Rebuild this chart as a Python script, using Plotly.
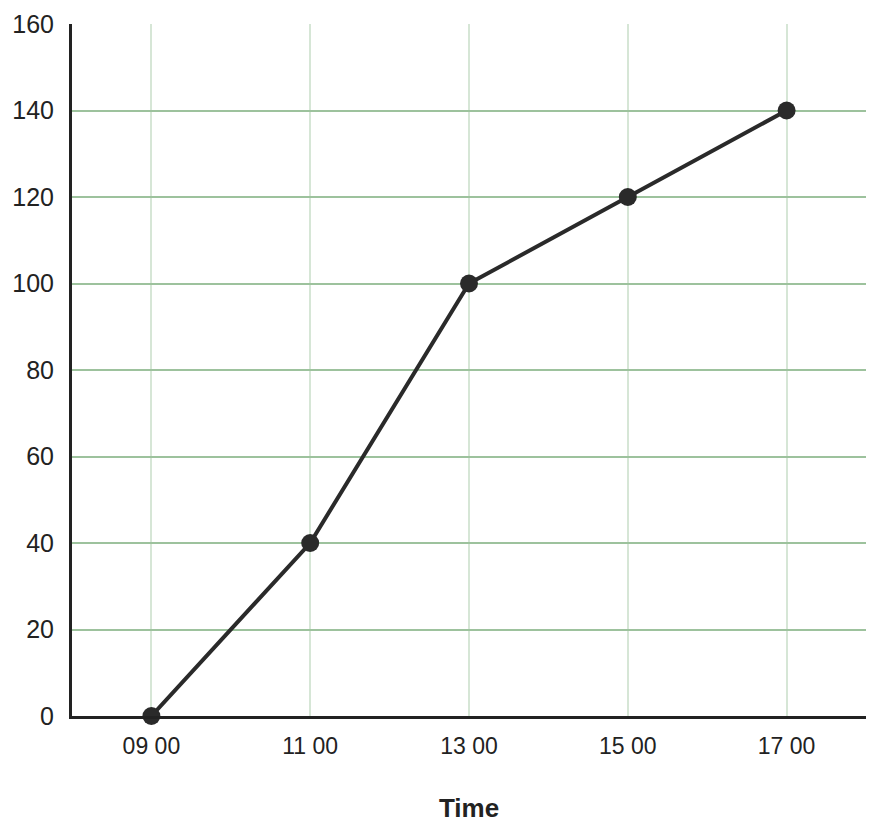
import plotly.graph_objects as go

times = ["09 00", "11 00", "13 00", "15 00", "17 00"]
values = [0, 40, 100, 120, 140]
y_ticks = [0, 20, 40, 60, 80, 100, 120, 140, 160]

fig = go.Figure()
fig.add_trace(go.Scatter(
    x=times, y=values, mode="lines+markers",
    line=dict(color="#2a2a2a", width=4),
    marker=dict(color="#2a2a2a", size=18),
    cliponaxis=False, showlegend=False,
))

fig.update_layout(
    width=873, height=823,
    margin=dict(l=64, r=15, t=16, b=115, autoexpand=False),
    plot_bgcolor="white", paper_bgcolor="white",
    font=dict(family="Liberation Sans, Arial, sans-serif", color="#222222"),
)
fig.update_xaxes(
    type="category", range=[-0.5, 4.5],
    showgrid=True, gridcolor="#d6e6d6", gridwidth=2,
    showline=True, linecolor="#222222", linewidth=3,
    ticks="", tickfont=dict(size=23, color="#222222"),
    ticklabelstandoff=7, automargin=False,
    title=dict(text="<b>Time</b>", font=dict(size=26, color="#222222"), standoff=42),
    zeroline=False,
)
fig.update_yaxes(
    range=[0, 160], tickvals=y_ticks,
    showgrid=True, gridcolor="#9dc29d", gridwidth=2,
    showline=True, linecolor="#222222", linewidth=3,
    ticks="", tickfont=dict(size=25, color="#222222"),
    ticklabelstandoff=10, automargin=False,
    zeroline=False,
)

fig.write_html("out.html")
